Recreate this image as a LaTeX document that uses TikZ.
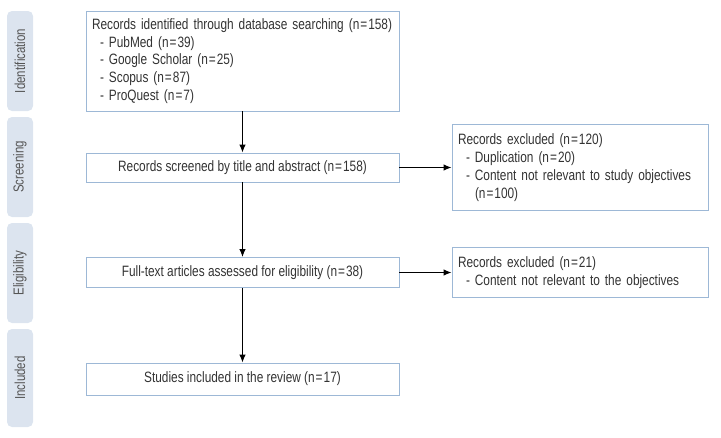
\documentclass[tikz,border=0pt]{standalone}
\usepackage{fontspec}
\setmainfont{Liberation Sans}[FakeStretch=0.79]
\usepackage{tikz}
\usetikzlibrary{arrows.meta}

\definecolor{boxline}{HTML}{9DB8D6}
\definecolor{tabfill}{HTML}{DCE4EF}
\definecolor{txtgray}{HTML}{333333}
\definecolor{tabtext}{HTML}{555555}

\newcommand{\eqn}{\kern1pt=\kern1pt}

\tikzset{
  flowbox/.style={draw=boxline, line width=0.9pt, text=txtgray, inner sep=6pt,
    font=\fontsize{15}{17.8}\selectfont},
  stagetab/.style={fill=tabfill, rounded corners=5pt, minimum height=26pt,
    text=tabtext, rotate=90, font=\fontsize{14.5}{16}\selectfont},
  flowarrow/.style={line width=1.1pt, draw=black, -{Latex[length=8pt,width=6.5pt]}}
}

\begin{document}
\begin{tikzpicture}[x=1pt,y=-1pt]
        \useasboundingbox (0,0) rectangle (721,437);
        % Draw stage tabs
        \node[stagetab, minimum width=100pt] (tabid) at (20,61) {Identification};
        \node[stagetab, minimum width=100pt] (tabscr) at (20,167) {Screening};
        \node[stagetab, minimum width=100pt] (tabelig) at (20,273) {Eligibility};
        \node[stagetab, minimum width=98pt] (tabinc) at (20,378) {Included};

        % Draw main boxes
        \node[flowbox, minimum width=313pt, minimum height=100pt, text width=301pt, align=left] (ident) at (242.5,61)
          {Records identified through database searching (n\eqn158)\\
           \hspace*{8pt}- PubMed (n\eqn39)\\
           \hspace*{8pt}- Google Scholar (n\eqn25)\\
           \hspace*{8pt}- Scopus (n\eqn87)\\
           \hspace*{8pt}- ProQuest (n\eqn7)};
        \node[flowbox, minimum width=313pt, minimum height=29pt] (screen) at (242.5,167.5)
          {Records screened by title and abstract (n\eqn158)};
        \node[flowbox, minimum width=313pt, minimum height=30pt] (elig) at (242.5,272.5)
          {Full-text articles assessed for eligibility (n\eqn38)};
        \node[flowbox, minimum width=313pt, minimum height=32pt] (incl) at (242.5,379)
          {Studies included in the review (n\eqn17)};

        % Draw exclusion boxes
        \node[flowbox, minimum width=256pt, minimum height=86pt, text width=244pt, align=left] (excla) at (580,167.5)
          {Records excluded (n\eqn120)\\
           \hspace*{8pt}- Duplication (n\eqn20)\\
           \hspace*{8pt}- Content not relevant to study objectives\\
           \hspace*{17pt}(n\eqn100)};
        \node[flowbox, minimum width=256pt, minimum height=50pt, text width=244pt, align=left] (exclb) at (580,272.5)
          {Records excluded (n\eqn21)\\
           \hspace*{8pt}- Content not relevant to the objectives};

        % Draw arrows
        \draw[flowarrow] (ident) -- (screen);
        \draw[flowarrow] (screen) -- (elig);
        \draw[flowarrow] (elig) -- (incl);
        \draw[flowarrow] (screen) -- (excla);
        \draw[flowarrow] (elig) -- (exclb);
\end{tikzpicture}
\end{document}
